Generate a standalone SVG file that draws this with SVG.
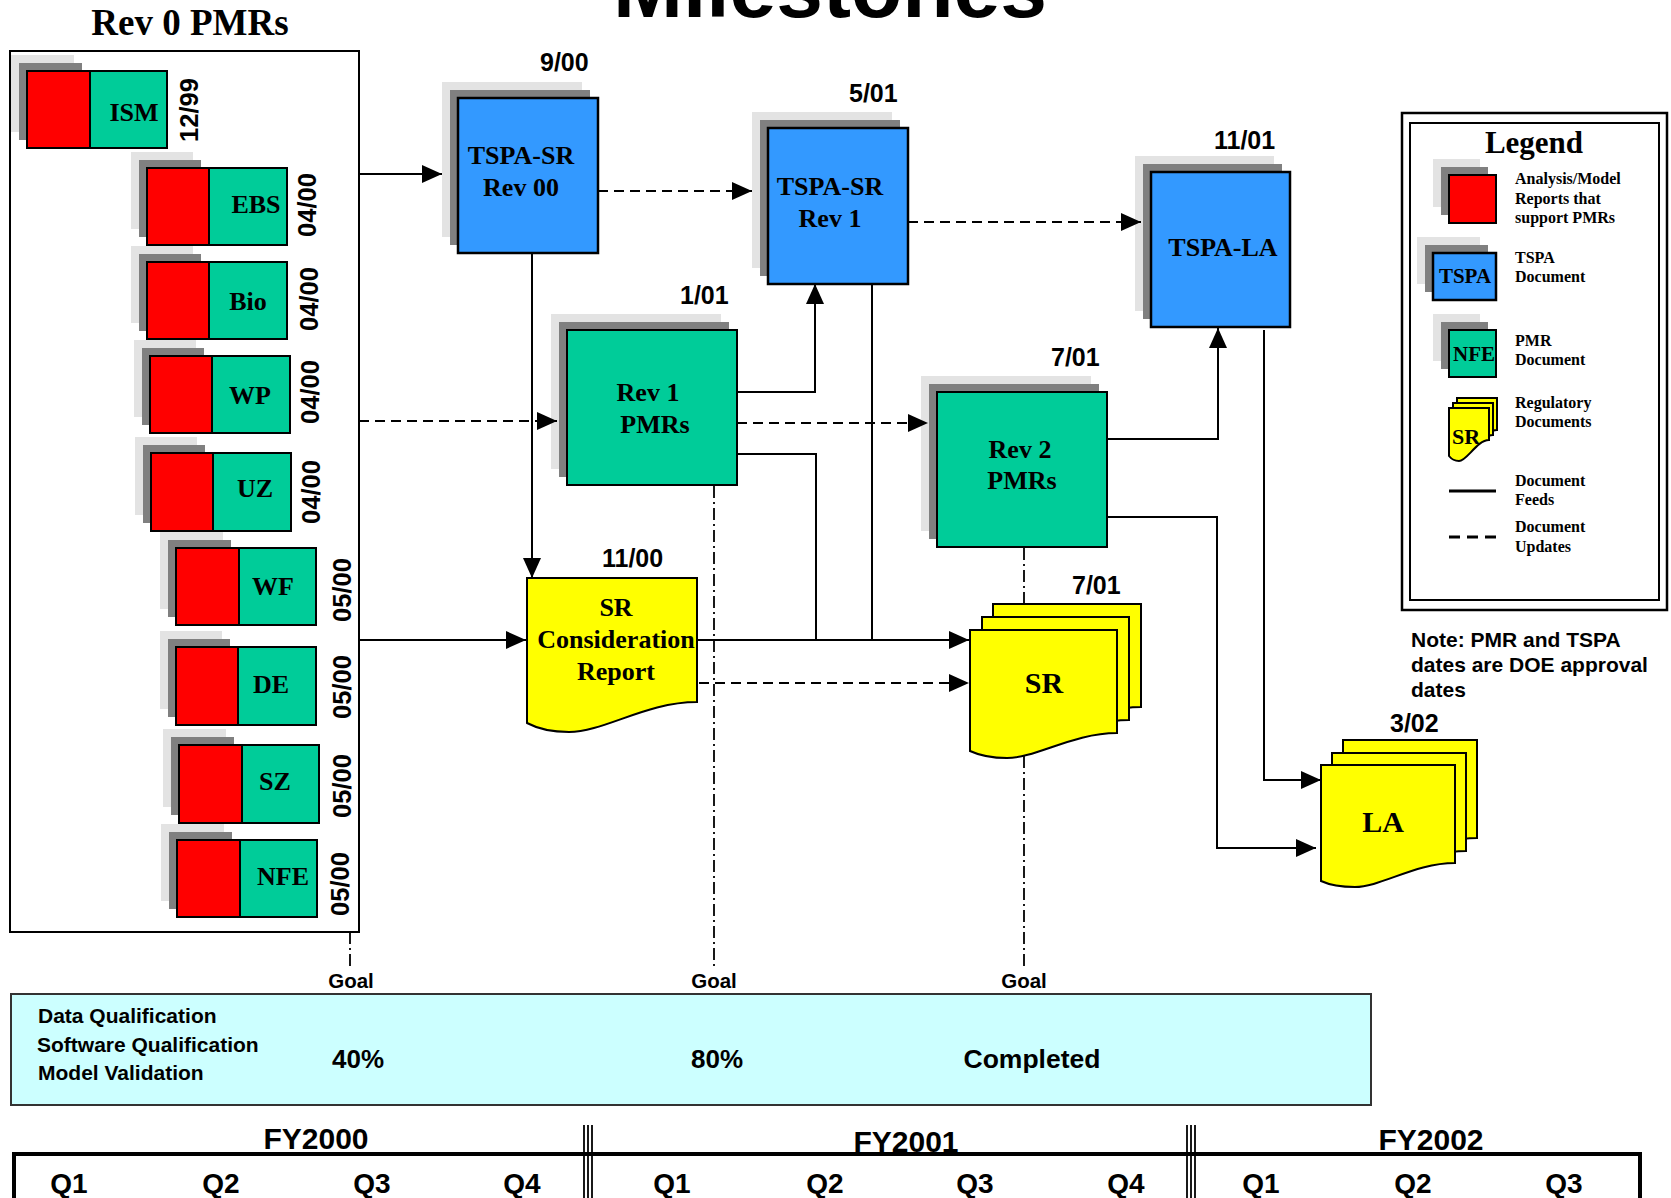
<svg xmlns="http://www.w3.org/2000/svg" width="1671" height="1198" viewBox="0 0 1671 1198">
<defs>
<style>
.lg{fill:#E3E3E3}
.dg{fill:#808080}
.red{fill:#FF0000;stroke:#000;stroke-width:2}
.grn{fill:#00CC99;stroke:#000;stroke-width:2}
.blu{fill:#3399FF;stroke:#000;stroke-width:2.5}
.yel{fill:#FFFF00;stroke:#000;stroke-width:2}
.tr{font-family:"Liberation Serif","Times New Roman",serif;font-weight:bold;fill:#000}
.ar{font-family:"Liberation Sans",Arial,sans-serif;font-weight:bold;fill:#000}
.t26{font-size:26px;text-anchor:middle}
.d25{font-size:25px}
.rot{font-size:25.5px;text-anchor:middle}
.lt{font-size:16px}
.conn{fill:none;stroke:#000;stroke-width:2}
.dash{stroke-dasharray:10 6}
.dd{fill:none;stroke:#000;stroke-width:1.8;stroke-dasharray:12 4 2 4}
.q{font-size:28px;text-anchor:middle}
</style>
<marker id="ah" markerUnits="userSpaceOnUse" markerWidth="20" markerHeight="18" refX="20" refY="9" orient="auto">
<path d="M0,0 L20,9 L0,18 Z" fill="#000"/>
</marker>
</defs>
<rect width="1671" height="1198" fill="#fff"/>

<text class="ar" x="830" y="17" font-size="84" text-anchor="middle">Milestones</text>

<g id="rev0-pmrs">
<text class="tr" x="190" y="35" font-size="37" text-anchor="middle">Rev 0 PMRs</text>
<rect x="10" y="51" width="349" height="881" fill="none" stroke="#000" stroke-width="2"/>
</g>

<g id="ism">
<rect class="lg" x="11" y="55" width="63" height="77"/><rect class="dg" x="19" y="63" width="63" height="77"/>
<rect class="red" x="27" y="71" width="63" height="77"/><rect class="grn" x="90" y="71" width="77" height="77"/>
<text class="tr t26" x="134" y="121">ISM</text>
<text class="ar rot" transform="translate(198,110) rotate(-90)">12/99</text>
</g>
<g id="ebs">
<rect class="lg" x="131" y="152" width="62" height="77"/><rect class="dg" x="139" y="160" width="62" height="77"/>
<rect class="red" x="147" y="168" width="62" height="77"/><rect class="grn" x="209" y="168" width="78" height="77"/>
<text class="tr t26" x="256" y="213">EBS</text>
<text class="ar rot" transform="translate(316,205) rotate(-90)">04/00</text>
</g>
<g id="bio">
<rect class="lg" x="131" y="246" width="62" height="77"/><rect class="dg" x="139" y="254" width="62" height="77"/>
<rect class="red" x="147" y="262" width="62" height="77"/><rect class="grn" x="209" y="262" width="78" height="77"/>
<text class="tr t26" x="248" y="310">Bio</text>
<text class="ar rot" transform="translate(318,299) rotate(-90)">04/00</text>
</g>
<g id="wp">
<rect class="lg" x="134" y="340" width="62" height="77"/><rect class="dg" x="142" y="348" width="62" height="77"/>
<rect class="red" x="150" y="356" width="62" height="77"/><rect class="grn" x="212" y="356" width="78" height="77"/>
<text class="tr t26" x="250" y="404">WP</text>
<text class="ar rot" transform="translate(319,392) rotate(-90)">04/00</text>
</g>
<g id="uz">
<rect class="lg" x="135" y="437" width="62" height="78"/><rect class="dg" x="143" y="445" width="62" height="78"/>
<rect class="red" x="151" y="453" width="62" height="78"/><rect class="grn" x="213" y="453" width="78" height="78"/>
<text class="tr t26" x="255" y="497">UZ</text>
<text class="ar rot" transform="translate(320,492) rotate(-90)">04/00</text>
</g>
<g id="wf">
<rect class="lg" x="160" y="532" width="63" height="77"/><rect class="dg" x="168" y="540" width="63" height="77"/>
<rect class="red" x="176" y="548" width="63" height="77"/><rect class="grn" x="239" y="548" width="77" height="77"/>
<text class="tr t26" x="273" y="595">WF</text>
<text class="ar rot" transform="translate(351,590) rotate(-90)">05/00</text>
</g>
<g id="de">
<rect class="lg" x="160" y="631" width="62" height="78"/><rect class="dg" x="168" y="639" width="62" height="78"/>
<rect class="red" x="176" y="647" width="62" height="78"/><rect class="grn" x="238" y="647" width="78" height="78"/>
<text class="tr t26" x="271" y="693">DE</text>
<text class="ar rot" transform="translate(351,687) rotate(-90)">05/00</text>
</g>
<g id="sz">
<rect class="lg" x="163" y="729" width="63" height="78"/><rect class="dg" x="171" y="737" width="63" height="78"/>
<rect class="red" x="179" y="745" width="63" height="78"/><rect class="grn" x="242" y="745" width="77" height="78"/>
<text class="tr t26" x="275" y="790">SZ</text>
<text class="ar rot" transform="translate(351,786) rotate(-90)">05/00</text>
</g>
<g id="nfe">
<rect class="lg" x="161" y="824" width="63" height="77"/><rect class="dg" x="169" y="832" width="63" height="77"/>
<rect class="red" x="177" y="840" width="63" height="77"/><rect class="grn" x="240" y="840" width="77" height="77"/>
<text class="tr t26" x="283" y="885">NFE</text>
<text class="ar rot" transform="translate(349,884) rotate(-90)">05/00</text>
</g>

<g id="tspa-sr-rev00">
<rect class="lg" x="442" y="82" width="140" height="155"/><rect class="dg" x="450" y="90" width="140" height="155"/>
<rect class="blu" x="458" y="98" width="140" height="155"/>
<text class="tr t26" x="521" y="164">TSPA-SR</text>
<text class="tr t26" x="521" y="196">Rev 00</text>
<text class="ar d25" x="540" y="71">9/00</text>
</g>
<g id="tspa-sr-rev1">
<rect class="lg" x="752" y="112" width="140" height="156"/><rect class="dg" x="760" y="120" width="140" height="156"/>
<rect class="blu" x="768" y="128" width="140" height="156"/>
<text class="tr t26" x="830" y="195">TSPA-SR</text>
<text class="tr t26" x="830" y="227">Rev 1</text>
<text class="ar d25" x="849" y="102">5/01</text>
</g>
<g id="tspa-la">
<rect class="lg" x="1135" y="156" width="139" height="155"/><rect class="dg" x="1143" y="164" width="139" height="155"/>
<rect class="blu" x="1151" y="172" width="139" height="155"/>
<text class="tr t26" x="1223" y="256">TSPA-LA</text>
<text class="ar d25" x="1214" y="149">11/01</text>
</g>
<g id="rev1-pmrs">
<rect class="lg" x="551" y="314" width="170" height="155"/><rect class="dg" x="559" y="322" width="170" height="155"/>
<rect class="grn" x="567" y="330" width="170" height="155" stroke-width="2.5"/>
<text class="tr t26" x="648" y="401">Rev 1</text>
<text class="tr t26" x="655" y="433">PMRs</text>
<text class="ar d25" x="680" y="304">1/01</text>
</g>
<g id="rev2-pmrs">
<rect class="lg" x="921" y="376" width="170" height="155"/><rect class="dg" x="929" y="384" width="170" height="155"/>
<rect class="grn" x="937" y="392" width="170" height="155" stroke-width="2.5"/>
<text class="tr t26" x="1020" y="458">Rev 2</text>
<text class="tr t26" x="1022" y="489">PMRs</text>
<text class="ar d25" x="1051" y="366">7/01</text>
</g>
<g id="sr-consideration">
<path class="yel" d="M527,578 H697 V702 C646,702 604,732 569,732 Q544,732 527,723 Z"/>
<text class="tr t26" x="616" y="616">SR</text>
<text class="tr t26" x="616" y="648">Consideration</text>
<text class="tr t26" x="616" y="680">Report</text>
<text class="ar d25" x="602" y="567">11/00</text>
</g>
<g id="sr">
<path class="yel" d="M993,604 H1141 V707 C1097,707 1060,732 1031,732 Q1009,732 993,725 Z"/>
<path class="yel" d="M982,617 H1129 V720 C1085,720 1048,745 1019,745 Q997,745 982,738 Z"/>
<path class="yel" d="M970,630 H1117 V733 C1073,733 1036,758 1007,758 Q985,758 970,751 Z"/>
<text class="tr" x="1044" y="693" font-size="30" text-anchor="middle">SR</text>
<text class="ar d25" x="1072" y="594">7/01</text>
</g>
<g id="la">
<path class="yel" d="M1343,740 H1477 V838 C1437,838 1403,862 1377,862 Q1356,862 1343,856 Z"/>
<path class="yel" d="M1332,753 H1466 V851 C1426,851 1392,875 1366,875 Q1345,875 1332,869 Z"/>
<path class="yel" d="M1321,765 H1455 V863 C1415,863 1381,887 1355,887 Q1334,887 1321,881 Z"/>
<text class="tr" x="1383" y="832" font-size="30" text-anchor="middle">LA</text>
<text class="ar d25" x="1390" y="732">3/02</text>
</g>

<g id="legend">
<rect x="1402" y="113" width="265" height="497" fill="none" stroke="#000" stroke-width="2.5"/>
<rect x="1410" y="123" width="249" height="477" fill="none" stroke="#000" stroke-width="2"/>
<text class="tr" x="1534" y="153" font-size="31" text-anchor="middle">Legend</text>
<rect class="lg" x="1433" y="159" width="47" height="48"/><rect class="dg" x="1441" y="167" width="47" height="48"/>
<rect class="red" x="1449" y="175" width="47" height="48"/>
<text class="tr lt" x="1515" y="184">Analysis/Model</text>
<text class="tr lt" x="1515" y="204">Reports that</text>
<text class="tr lt" x="1515" y="223">support PMRs</text>
<rect class="lg" x="1417" y="237" width="63" height="47"/><rect class="dg" x="1425" y="245" width="63" height="47"/>
<rect class="blu" x="1433" y="253" width="63" height="47" stroke-width="2"/>
<text class="tr" x="1465" y="283" font-size="21" text-anchor="middle">TSPA</text>
<text class="tr lt" x="1515" y="263">TSPA</text>
<text class="tr lt" x="1515" y="282">Document</text>
<rect class="lg" x="1433" y="314" width="47" height="47"/><rect class="dg" x="1441" y="322" width="47" height="47"/>
<rect class="grn" x="1449" y="330" width="47" height="47"/>
<text class="tr" x="1474" y="361" font-size="21" text-anchor="middle" textLength="42" lengthAdjust="spacingAndGlyphs">NFE</text>
<text class="tr lt" x="1515" y="346">PMR</text>
<text class="tr lt" x="1515" y="365">Document</text>
<path class="yel" d="M1457,398 H1497 V430 C1485,430 1475,451 1467,451 Q1461,451 1457,446 Z"/>
<path class="yel" d="M1453,403 H1493 V435 C1481,435 1471,456 1463,456 Q1457,456 1453,451 Z"/>
<path class="yel" d="M1449,408 H1489 V440 C1477,440 1467,461 1459,461 Q1453,461 1449,456 Z"/>
<text class="tr" x="1452" y="444" font-size="22">SR</text>
<text class="tr lt" x="1515" y="408">Regulatory</text>
<text class="tr lt" x="1515" y="427">Documents</text>
<line x1="1449" y1="491" x2="1496" y2="491" stroke="#000" stroke-width="3"/>
<text class="tr lt" x="1515" y="486">Document</text>
<text class="tr lt" x="1515" y="505">Feeds</text>
<line x1="1449" y1="537" x2="1496" y2="537" stroke="#000" stroke-width="3" stroke-dasharray="11 7"/>
<text class="tr lt" x="1515" y="532">Document</text>
<text class="tr lt" x="1515" y="552">Updates</text>
</g>

<g id="note">
<text class="ar" x="1411" y="647" font-size="21">Note: PMR and TSPA</text>
<text class="ar" x="1411" y="672" font-size="21">dates are DOE approval</text>
<text class="ar" x="1411" y="697" font-size="21">dates</text>
</g>

<g id="qualification">
<rect x="11" y="994" width="1360" height="111" fill="#CCFFFF" stroke="#333" stroke-width="2"/>
<text class="ar" x="38" y="1023" font-size="21">Data Qualification</text>
<text class="ar" x="37" y="1052" font-size="21">Software Qualification</text>
<text class="ar" x="38" y="1080" font-size="21">Model Validation</text>
<text class="ar" x="358" y="1068" font-size="26" text-anchor="middle">40%</text>
<text class="ar" x="717" y="1068" font-size="26" text-anchor="middle">80%</text>
<text class="ar" x="1032" y="1068" font-size="26.5" text-anchor="middle">Completed</text>
<text class="ar" x="351" y="988" font-size="20.5" text-anchor="middle">Goal</text>
<text class="ar" x="714" y="988" font-size="20.5" text-anchor="middle">Goal</text>
<text class="ar" x="1024" y="988" font-size="20.5" text-anchor="middle">Goal</text>
</g>

<g id="timeline">
<path d="M14,1198 V1154 H1640 V1198" fill="none" stroke="#000" stroke-width="4"/>
<g stroke="#000" stroke-width="1.8">
<line x1="584" y1="1125" x2="584" y2="1198"/><line x1="588" y1="1125" x2="588" y2="1198"/><line x1="592" y1="1125" x2="592" y2="1198"/>
<line x1="1187" y1="1125" x2="1187" y2="1198"/><line x1="1191" y1="1125" x2="1191" y2="1198"/><line x1="1195" y1="1125" x2="1195" y2="1198"/>
</g>
<text class="ar" x="316" y="1149" font-size="30" text-anchor="middle">FY2000</text>
<text class="ar" x="906" y="1152" font-size="30" text-anchor="middle">FY2001</text>
<text class="ar" x="1431" y="1150" font-size="30" text-anchor="middle">FY2002</text>
<text class="ar q" x="69" y="1193">Q1</text>
<text class="ar q" x="221" y="1193">Q2</text>
<text class="ar q" x="372" y="1193">Q3</text>
<text class="ar q" x="522" y="1193">Q4</text>
<text class="ar q" x="672" y="1193">Q1</text>
<text class="ar q" x="825" y="1193">Q2</text>
<text class="ar q" x="975" y="1193">Q3</text>
<text class="ar q" x="1126" y="1193">Q4</text>
<text class="ar q" x="1261" y="1193">Q1</text>
<text class="ar q" x="1413" y="1193">Q2</text>
<text class="ar q" x="1564" y="1193">Q3</text>
</g>

<g id="connectors">
<path class="conn" d="M359,174 H442" marker-end="url(#ah)"/>
<path class="conn dash" d="M598,191 H752" marker-end="url(#ah)"/>
<path class="conn dash" d="M908,222 H1141" marker-end="url(#ah)"/>
<path class="conn dash" d="M359,421 H557" marker-end="url(#ah)"/>
<path class="conn" d="M737,392 H815 V284" marker-end="url(#ah)"/>
<path class="conn dash" d="M737,423 H928" marker-end="url(#ah)"/>
<path class="conn" d="M737,454 H816 V640"/>
<path class="conn" d="M532,253 V578" marker-end="url(#ah)"/>
<path class="conn" d="M872,284 V640"/>
<path class="conn" d="M697,640 H969" marker-end="url(#ah)"/>
<path class="conn dash" d="M699,683 H969" marker-end="url(#ah)"/>
<path class="conn" d="M359,640 H526" marker-end="url(#ah)"/>
<path class="conn" d="M1107,439 H1218 V328" marker-end="url(#ah)"/>
<path class="conn" d="M1107,517 H1217 V848 H1316" marker-end="url(#ah)"/>
<path class="conn" d="M1264,330 V780 H1321" marker-end="url(#ah)"/>
<path class="dd" d="M350,932 V970"/>
<path class="dd" d="M714,486 V970"/>
<path class="dd" d="M1024,548 V604"/>
<path class="dd" d="M1024,756 V970"/>
</g>
</svg>
